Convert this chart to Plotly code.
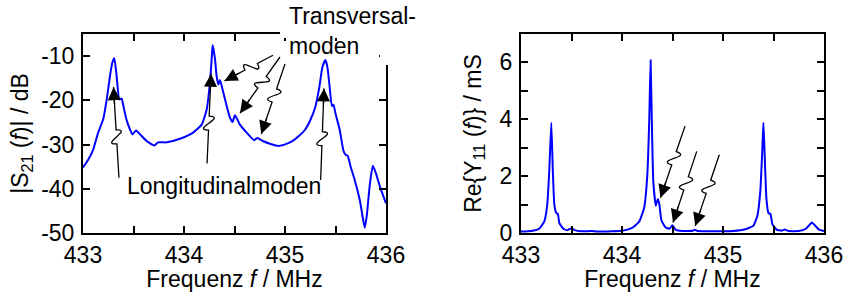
import math
import plotly.graph_objects as go

# ---------------- data ----------------
f_s21 = [433.00, 433.05, 433.10, 433.15, 433.20, 433.235, 433.267, 433.29, 433.31, 433.333,
         433.36, 433.383, 433.40, 433.43, 433.465, 433.49, 433.525, 433.565, 433.63, 433.706,
         433.745, 433.83, 433.96, 434.09, 434.175, 434.225, 434.257, 434.274, 434.284, 434.307,
         434.323, 434.34, 434.356, 434.39, 434.423, 434.455, 434.48, 434.505, 434.554, 434.62,
         434.695, 434.725, 434.78, 434.85, 434.94, 435.02, 435.08, 435.14, 435.20, 435.25,
         435.30, 435.34, 435.37, 435.40, 435.42, 435.44, 435.465, 435.48, 435.50, 435.54,
         435.58, 435.60, 435.62, 435.65, 435.69, 435.74, 435.77, 435.79, 435.81, 435.84,
         435.87, 435.90, 435.94, 436.00]
s21_db = [-35.2, -33.5, -31.2, -27.3, -24.3, -19.8, -14.5, -11.5, -10.5, -14.5,
          -19.8, -19.6, -21.3, -24.3, -26.6, -27.7, -26.8, -27.7, -29.2, -30.2,
          -29.5, -29.5, -28.7, -27.3, -25.5, -22.0, -16.0, -10.7, -7.5, -10.7,
          -14.5, -16.4, -15.4, -18.3, -21.3, -23.9, -24.9, -23.4, -25.5, -27.3,
          -29.0, -28.5, -29.2, -29.8, -30.3, -29.8, -29.1, -28.0, -26.6, -24.5,
          -21.5, -17.0, -12.5, -10.9, -12.5, -16.5, -21.3, -21.0, -23.0, -26.5,
          -31.5, -32.3, -32.5, -35.0, -38.0, -42.5, -46.5, -48.8, -46.0, -39.0,
          -34.8, -36.5, -39.5, -43.3]

f_y11 = [433.00, 433.10, 433.18, 433.23, 433.26, 433.28, 433.30, 433.315, 433.33, 433.35,
         433.365, 433.38, 433.42, 433.46, 433.50, 433.53, 433.60, 433.70, 433.75, 433.90,
         434.00, 434.10, 434.17, 434.22, 434.25, 434.27, 434.283, 434.295, 434.31, 434.335,
         434.355, 434.37, 434.39, 434.43, 434.47, 434.50, 434.53, 434.60, 434.70, 434.72,
         434.75, 434.90, 435.10, 435.22, 435.30, 435.34, 435.37, 435.39, 435.40, 435.41,
         435.43, 435.45, 435.47, 435.49, 435.53, 435.58, 435.61, 435.65, 435.75, 435.82,
         435.86, 435.88, 435.91, 435.95, 436.00]
re_y11 = [0.05, 0.07, 0.15, 0.40, 1.00, 2.20, 3.88, 2.20, 1.00, 0.70,
          0.67, 0.35, 0.15, 0.10, 0.17, 0.10, 0.06, 0.07, 0.05, 0.06,
          0.08, 0.18, 0.40, 0.90, 2.00, 4.00, 6.08, 4.00, 1.80, 0.96,
          1.20, 1.00, 0.45, 0.20, 0.15, 0.27, 0.12, 0.07, 0.08, 0.11,
          0.07, 0.06, 0.07, 0.13, 0.25, 0.60, 1.50, 3.00, 3.88, 3.00,
          1.20, 0.70, 0.67, 0.30, 0.12, 0.08, 0.12, 0.07, 0.07, 0.15,
          0.30, 0.37, 0.27, 0.12, 0.07]

x_ticks = [433, 434, 435, 436]
x_ticklabels = ["433", "434", "435", "436"]
s21_ticks = [-50, -40, -30, -20, -10]
s21_ticklabels = ["-50", "-40", "-30", "-20", "-10"]
y11_ticks = [0, 2, 4, 6]
y11_ticklabels = ["0", "2", "4", "6"]

# annotation arrows: (tail f, tail value) -> (tip f, tip value)
long_arrows = [((433.356, -37.5), (433.302, -17.0)),
               ((434.228, -34.3), (434.268, -14.0)),
               ((435.353, -38.0), (435.386, -17.3))]
trans_arrows = [((434.881, -9.8), (434.401, -15.6)),
                ((434.950, -10.2), (434.555, -22.9)),
                ((435.000, -11.8), (434.765, -27.6))]
y11_arrows = [((434.624, 3.76), (434.381, 1.24)),
              ((434.740, 2.87), (434.505, 0.37)),
              ((434.963, 2.75), (434.725, 0.25))]
long_label_pos = (434.40, -39.3)

# ---------------- layout constants ----------------
W, H = 846, 292
FONT = "Liberation Sans, Arial, sans-serif"
FS = 23
x_range = [433, 436]
s21_range = [-50, -5]
y11_range = [0, 7]
dom_x1 = [83 / W, 386 / W]
dom_x2 = [521 / W, 824 / W]
dom_y = [1 - 233 / H, 1 - 34 / H]

px_per_f = (dom_x1[1] - dom_x1[0]) * W / (x_range[1] - x_range[0])
plot_h = (dom_y[1] - dom_y[0]) * H
px_per_db = plot_h / (s21_range[1] - s21_range[0])
px_per_y = plot_h / (y11_range[1] - y11_range[0])

fig = go.Figure()
fig.add_trace(go.Scatter(x=f_s21, y=s21_db, mode="lines", xaxis="x", yaxis="y",
                         line=dict(color="#0000ff", width=2, shape="spline", smoothing=0.5),
                         showlegend=False, hoverinfo="skip"))
fig.add_trace(go.Scatter(x=f_y11, y=re_y11, mode="lines", xaxis="x2", yaxis="y2",
                         line=dict(color="#0000ff", width=2, shape="spline", smoothing=0.4),
                         showlegend=False, hoverinfo="skip"))

shapes = []
annotations = []


def squiggle(tail, tip, sy, xref, yref, frac=0.45, gap=14, amp=18):
    sx = px_per_f
    x0, y0 = tail[0] * sx, tail[1] * sy
    x1, y1 = tip[0] * sx, tip[1] * sy
    dx, dy = x1 - x0, y1 - y0
    L = math.hypot(dx, dy)
    ux, uy = dx / L, dy / L
    nx, ny = -uy, ux
    p1 = (x0 + ux * (L * frac - gap / 2), y0 + uy * (L * frac - gap / 2))
    p2 = (p1[0] + ux * gap, p1[1] + uy * gap)
    c1 = (p1[0] + nx * amp, p1[1] + ny * amp)
    c2 = (p2[0] - nx * amp, p2[1] - ny * amp)

    def d(p):
        return f"{p[0] / sx},{p[1] / sy}"
    path = (f"M {tail[0]},{tail[1]} L {d(p1)} C {d(c1)} {d(c2)} {d(p2)} "
            f"L {tip[0]},{tip[1]}")
    shapes.append(dict(type="path", path=path, xref=xref, yref=yref, layer="above",
                       line=dict(color="black", width=1.3)))
    annotations.append(dict(x=tip[0], y=tip[1], xref=xref, yref=yref, text="",
                            showarrow=True, arrowhead=2, arrowsize=2.0, arrowwidth=1.3,
                            arrowcolor="black", ax=-ux * 18, ay=uy * 18, standoff=0))


for t, h in long_arrows:
    squiggle(t, h, px_per_db, "x", "y")
for t, h in trans_arrows:
    squiggle(t, h, px_per_db, "x", "y")
for t, h in y11_arrows:
    squiggle(t, h, px_per_y, "x2", "y2")

# white patches where the label box hides the frame
shapes.append(dict(type="rect", xref="paper", yref="paper", layer="above",
                   x0=280 / W, x1=392 / W, y0=1 - 38 / H, y1=1 - 30 / H,
                   fillcolor="white", line=dict(width=0)))
shapes.append(dict(type="rect", xref="paper", yref="paper", layer="above",
                   x0=380 / W, x1=392 / W, y0=1 - 65 / H, y1=1 - 30 / H,
                   fillcolor="white", line=dict(width=0)))

annotations.append(dict(x=287 / W, y=1 - 1 / H, xref="paper", yref="paper",
                        xanchor="left", yanchor="top", align="left", showarrow=False,
                        text="Transversal-<br>moden",
                        font=dict(family=FONT, size=FS, color="black")))
annotations.append(dict(x=long_label_pos[0], y=long_label_pos[1], xref="x", yref="y",
                        xanchor="center", yanchor="middle", showarrow=False,
                        text="Longitudinalmoden",
                        font=dict(family=FONT, size=FS, color="black")))

minor_x = dict(dtick=0.5, ticks="inside", ticklen=7, tickwidth=2, tickcolor="black")
axis_common = dict(showline=True, linecolor="black", linewidth=2, mirror="ticks",
                   ticks="inside", ticklen=7, tickwidth=2, tickcolor="black",
                   showgrid=False, zeroline=False, automargin=False,
                   tickfont=dict(family=FONT, size=FS, color="black"))

fig.update_layout(
    template="none",
    width=W, height=H, margin=dict(l=0, r=0, t=0, b=0, pad=0),
    paper_bgcolor="white", plot_bgcolor="white",
    font=dict(family=FONT, size=FS, color="black"),
    xaxis=dict(domain=dom_x1, range=x_range, anchor="y", tickvals=x_ticks,
               ticktext=x_ticklabels, minor=minor_x, ticklabelstandoff=0,
               title=dict(text="Frequenz <i>f</i> / MHz", standoff=10,
                          font=dict(family=FONT, size=FS)), **axis_common),
    yaxis=dict(domain=dom_y, range=s21_range, anchor="x", tickvals=s21_ticks,
               ticktext=s21_ticklabels, ticklabelstandoff=2,
               title=dict(text="|S<sub>21</sub> (<i>f</i>)| / dB", standoff=6,
                          font=dict(family=FONT, size=FS)), **axis_common),
    xaxis2=dict(domain=dom_x2, range=x_range, anchor="y2", tickvals=x_ticks,
                ticktext=x_ticklabels, minor=minor_x, ticklabelstandoff=0,
                title=dict(text="Frequenz <i>f</i> / MHz", standoff=10,
                           font=dict(family=FONT, size=FS)), **axis_common),
    yaxis2=dict(domain=dom_y, range=y11_range, anchor="x2", tickvals=y11_ticks,
                ticktext=y11_ticklabels, ticklabelstandoff=2,
                minor=dict(dtick=1, ticks="inside", ticklen=7, tickwidth=2, tickcolor="black"),
                title=dict(text="Re{Y<sub>11</sub> (<i>f</i>)} / mS", standoff=12,
                           font=dict(family=FONT, size=FS)), **axis_common),
    shapes=shapes, annotations=annotations,
)

fig.write_html("out.html", config={"displayModeBar": False},
               post_script="document.body.style.margin='0';document.body.style.overflow='hidden';")
